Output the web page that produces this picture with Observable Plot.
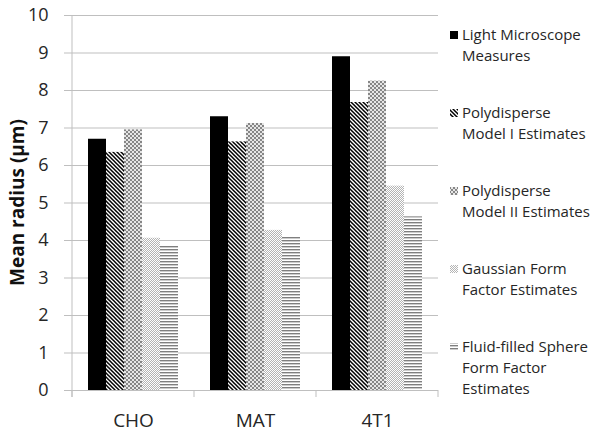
<!DOCTYPE html>
<html>
<head>
<meta charset="utf-8">
<script src="https://cdn.jsdelivr.net/npm/d3@7"></script>
<script src="https://cdn.jsdelivr.net/npm/@observablehq/plot@0.6"></script>
<style>
  html, body { margin: 0; padding: 0; background: white; }
</style>
</head>
<body>
<div id="chart"></div>
<script>
// ---- Data ----
const groups = ["CHO", "MAT", "4T1"];
const series = [
  "Light Microscope Measures",
  "Polydisperse Model I Estimates",
  "Polydisperse Model II Estimates",
  "Gaussian Form Factor Estimates",
  "Fluid-filled Sphere Form Factor Estimates"
];
const legendLines = [
  ["Light Microscope", "Measures"],
  ["Polydisperse", "Model I Estimates"],
  ["Polydisperse", "Model II Estimates"],
  ["Gaussian Form", "Factor Estimates"],
  ["Fluid-filled Sphere", "Form Factor", "Estimates"]
];
const lightMicroscope = [6.70, 7.30, 8.90];
const polydisperseI   = [6.35, 6.63, 7.68];
const polydisperseII  = [6.95, 7.12, 8.25];
const gaussianForm    = [4.06, 4.27, 5.45];
const fluidSphere     = [3.86, 4.08, 4.63];
const yTicks = [0, 1, 2, 3, 4, 5, 6, 7, 8, 9, 10];
const yTitle = "Mean radius (µm)";

// ---- Build table ----
const seriesValues = [lightMicroscope, polydisperseI, polydisperseII, gaussianForm, fluidSphere];
const data = [];
groups.forEach((g, gi) => {
  series.forEach((s, si) => data.push({group: g, series: s, value: seriesValues[si][gi]}));
});

const fills = ["#000000", "url(#pat-hatch)", "url(#pat-cross)", "url(#pat-dots)", "url(#pat-hlines)"];
const font = "'Open Sans', sans-serif";
const textColor = "#262626";
const gridColor = "#bfbfbf";

const plot = Plot.plot({
  width: 600,
  height: 436,
  marginTop: 15,
  marginBottom: 46,
  marginLeft: 71,
  marginRight: 161,
  style: {fontFamily: font, color: textColor, background: "white"},
  fx: {domain: groups, padding: 0, label: null},
  x: {domain: series, paddingInner: 0, paddingOuter: 0.73, axis: null},
  y: {domain: [0, 10]},
  color: {domain: series, range: fills},
  marks: [
    Plot.gridY(yTicks, {stroke: gridColor, strokeOpacity: 1, strokeWidth: 1}),
    Plot.barY(data, {fx: "group", x: "series", y: "value", fill: "series", inset: 0}),
    Plot.axisY(yTicks, {tickSize: 8, tickPadding: 16, fontSize: 18, stroke: gridColor, fill: textColor, label: null}),
    Plot.axisFx({anchor: "bottom", tickSize: 0, tickPadding: 23, fontSize: 19, fill: textColor, label: null})
  ]
});

document.getElementById("chart").appendChild(plot);

// ---- Patterns ----
const svg = d3.select(plot);
const defs = svg.insert("defs", ":first-child");

const ph = defs.append("pattern").attr("id", "pat-hatch").attr("patternUnits", "userSpaceOnUse").attr("width", 4).attr("height", 4);
ph.append("rect").attr("width", 4).attr("height", 4).attr("fill", "white");
ph.append("path").attr("d", "M-1,-1L5,5M3,-1L5,1M-1,3L1,5").attr("stroke", "black").attr("stroke-width", 1.5);

const pc = defs.append("pattern").attr("id", "pat-cross").attr("patternUnits", "userSpaceOnUse").attr("width", 4).attr("height", 4);
pc.append("rect").attr("width", 4).attr("height", 4).attr("fill", "#858585");
[[0,0],[4,0],[0,4],[4,4],[2,2]].forEach(([cx, cy]) => pc.append("circle").attr("cx", cx).attr("cy", cy).attr("r", 1.1).attr("fill", "white"));

const pd = defs.append("pattern").attr("id", "pat-dots").attr("patternUnits", "userSpaceOnUse").attr("width", 2).attr("height", 2);
pd.append("rect").attr("width", 2).attr("height", 2).attr("fill", "white");
pd.append("rect").attr("x", 0).attr("y", 0).attr("width", 1).attr("height", 1).attr("fill", "#b4b4b4");
pd.append("rect").attr("x", 1).attr("y", 1).attr("width", 1).attr("height", 1).attr("fill", "#b4b4b4");

const pl = defs.append("pattern").attr("id", "pat-hlines").attr("patternUnits", "userSpaceOnUse").attr("width", 3).attr("height", 3);
pl.append("rect").attr("width", 3).attr("height", 3).attr("fill", "white");
pl.append("rect").attr("width", 3).attr("height", 1.4).attr("fill", "#7f7f7f");

// ---- Axis lines and category ticks ----
const fx = plot.scale("fx");
const ys = plot.scale("y");
const y0 = ys.apply(0), y10 = ys.apply(10);
const fxBand = fx.bandwidth;
const xLeft = fx.apply(groups[0]);
const deco = svg.append("g").attr("stroke", gridColor).attr("stroke-width", 1);
deco.append("line").attr("x1", xLeft).attr("x2", xLeft).attr("y1", y10).attr("y2", y0 + 7);
const bounds = groups.map(g => fx.apply(g)).concat([fx.apply(groups[groups.length - 1]) + fxBand]);
bounds.forEach(bx => deco.append("line").attr("x1", bx).attr("x2", bx).attr("y1", y0).attr("y2", y0 + 7));

// ---- Y title ----
svg.append("text")
  .attr("transform", `translate(17,${(y0 + y10) / 2}) rotate(-90)`)
  .attr("text-anchor", "middle")
  .attr("dominant-baseline", "central")
  .attr("font-family", font)
  .attr("font-weight", "bold")
  .attr("font-size", 19)
  .attr("fill", "#111")
  .text(yTitle);

// ---- Legend ----
const legend = svg.append("g").attr("font-family", font).attr("font-size", 15).attr("fill", textColor).attr("text-anchor", "start");
const legendTop = 35, entryStep = 78, lineStep = 21;
series.forEach((s, i) => {
  const cy = legendTop + i * entryStep;
  legend.append("rect").attr("x", 450).attr("y", cy - 4).attr("width", 8).attr("height", 8).attr("fill", fills[i]);
  legendLines[i].forEach((line, li) => {
    legend.append("text").attr("x", 462).attr("y", cy + li * lineStep).attr("dy", "0.35em").attr("text-anchor", "start").text(line);
  });
});
</script>
</body>
</html>
